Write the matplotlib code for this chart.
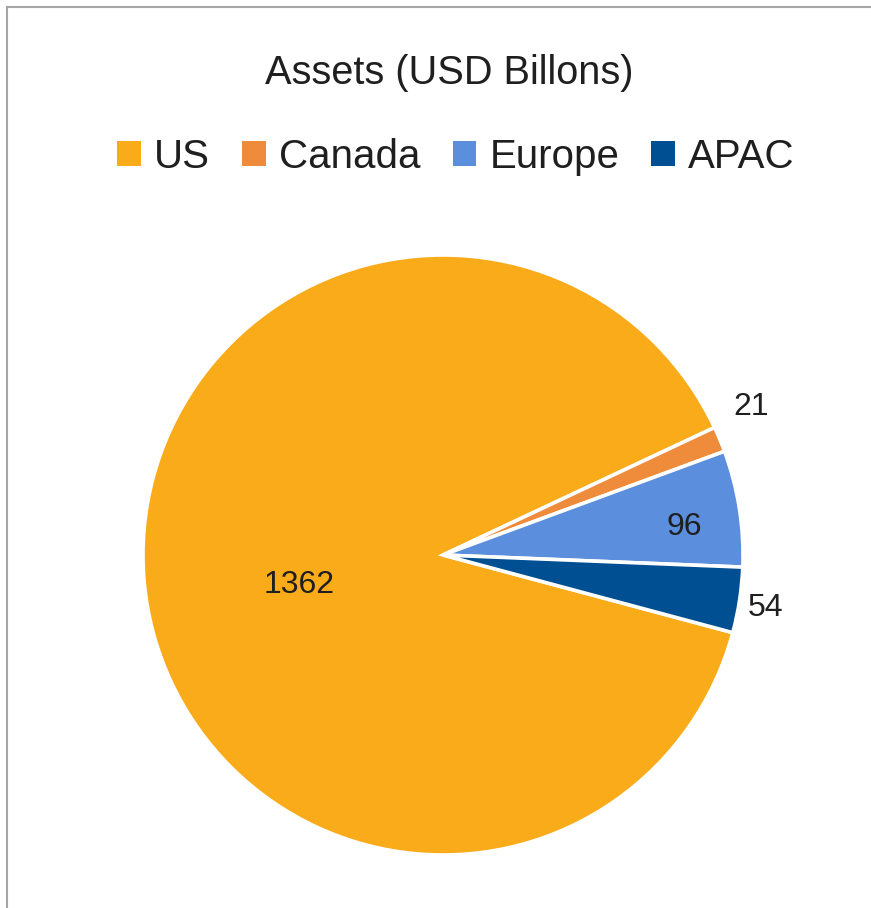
import numpy as np
import matplotlib.pyplot as plt
from matplotlib.patches import Patch
from matplotlib.lines import Line2D

plt.rcParams['font.family'] = ['Liberation Sans', 'DejaVu Sans']

# asset split by region
regions = ['US', 'Canada', 'Europe', 'APAC']
assets = [1362, 21, 96, 54]
colors = ['#FAAB1A', '#EE8C3C', '#5B8EDC', '#004F93']

# label radius and angle nudge (deg) for each value label
label_r = [0.49, 1.14, 0.81, 1.09]
label_shift = [6.5, 3.0, -2.4, -0.6]

W, H = 871, 908
fig = plt.figure(figsize=(W / 100, H / 100), dpi=100)

# pie axes: centre (443, 555) px, radius 300 px
cx, cy, rad = 443, 555, 300
ax = fig.add_axes([(cx - rad) / W, (H - cy - rad) / H, 2 * rad / W, 2 * rad / H])

wedges, _ = ax.pie(assets, colors=colors, startangle=-15, counterclock=False,
                   radius=1, wedgeprops=dict(edgecolor='white', linewidth=2.6))
ax.set_xlim(-1, 1)
ax.set_ylim(-1, 1)
ax.set_aspect('equal')
ax.axis('off')

for w, v, r, s in zip(wedges, assets, label_r, label_shift):
    mid = np.deg2rad((w.theta1 + w.theta2) / 2 + s)
    ax.text(r * np.cos(mid), r * np.sin(mid), str(v), ha='center', va='center',
            fontsize=23, color='#1f1f1f', clip_on=False)

fig.text(449 / W, 1 - 84 / H, 'Assets (USD Billons)', ha='center', va='baseline',
         fontsize=28.6, color='#1f1f1f')

handles = [Patch(facecolor=c, edgecolor='none') for c in colors]
fig.legend(handles, regions, loc='center', bbox_to_anchor=(456 / W, 1 - 157 / H),
           ncol=4, frameon=False, fontsize=29, handlelength=0.58, handleheight=0.58,
           handletextpad=0.33, columnspacing=0.8, labelcolor='#1f1f1f')

# chart area border (left and top edges)
fig.add_artist(Line2D([7 / W, 7 / W], [0, 1 - 7 / H], color='#a6a6a6', lw=1.5))
fig.add_artist(Line2D([7 / W, 1], [1 - 7 / H, 1 - 7 / H], color='#a6a6a6', lw=1.5))

fig.savefig('out.png', dpi=100)
